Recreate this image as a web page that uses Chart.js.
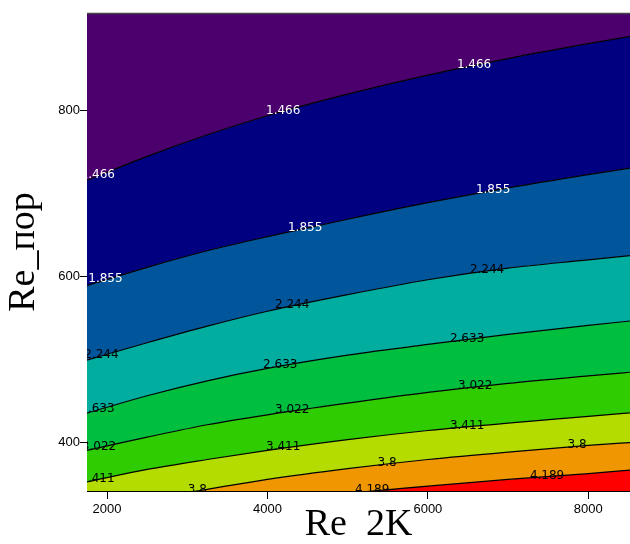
<!DOCTYPE html>
<html>
<head>
<meta charset="utf-8">
<script src="https://cdn.jsdelivr.net/npm/chart.js@4.4.1/dist/chart.umd.min.js"></script>
<style>
  body { margin: 0; background: #fff; }
  #chart { display: block; }
</style>
</head>
<body>
<canvas id="chart" width="630" height="544"></canvas>
<script>
/* =========================
   DATOS
========================= */

// Re 2K (eje x) donde se leyeron las isolineas
const re2k = [1750, 2500, 3250, 4000, 5000, 6000, 7000, 8000, 8600];

// niveles de las isolineas
const levels = ["1.466", "1.855", "2.244", "2.633", "3.022", "3.411", "3.8", "4.189"];

// Re_пор de cada isolinea
const line1466 = [716, 745, 771, 794, 820, 843, 863, 881, 891];
const line1855 = [589, 611, 631, 648, 669, 689, 707, 723, 732];
const line2244 = [499, 520, 540, 558, 578, 596, 610, 620, 626];
const line2633 = [435, 456, 474, 489, 505, 518, 530, 541, 547];
const line3022 = [390, 406, 421, 433, 447, 460, 471, 480, 485];
const line3411 = [352, 367, 379, 390, 403, 414, 423, 431, 436];
const line38   = [319, 331, 343, 355, 368, 379, 388, 396, 400];
const line4189 = [301, 310, 319, 327, 338, 347, 355, 362, 367];

const xTicks = [2000, 4000, 6000, 8000];
const yTicks = [400, 600, 800];

/* =========================
   ESTILO
========================= */

// colores de las bandas, de arriba hacia abajo
const bandColors = [
  "#4b006e", "#000080", "#00559b", "#00ad9f",
  "#00be3e", "#2ecc00", "#b4dc00", "#f09600", "#ff0000"
];

// donde va la etiqueta de cada isolinea (en Re 2K)
const labelAt = [
  [1885, 4196, 6576],
  [1980, 4470, 6813],
  [1930, 4308, 6738],
  [1880, 4160, 6489],
  [1900, 4308, 6589],
  [1880, 4196, 6489],
  [3125, 5492, 7859],
  [5305, 7486]
];

const lines = [line1466, line1855, line2244, line2633, line3022, line3411, line38, line4189];

function pts(arr) {
  return re2k.map((x, i) => ({ x: x, y: arr[i] }));
}

/* =========================
   PLUGINS
========================= */

// etiquetas sobre las isolineas
const contourLabels = {
  id: "contourLabels",
  afterDatasetsDraw(chart) {
    const { ctx, chartArea, scales } = chart;
    ctx.save();
    ctx.beginPath();
    ctx.rect(chartArea.left, chartArea.top, chartArea.right - chartArea.left, chartArea.bottom - chartArea.top);
    ctx.clip();
    ctx.font = "12px 'DejaVu Sans'";
    ctx.textAlign = "center";
    ctx.textBaseline = "middle";

    labelAt.forEach((xs, i) => {
      const pointsPx = chart.getDatasetMeta(i).data;
      ctx.fillStyle = i < 2 ? "#fff" : "#000";
      xs.forEach(xv => {
        const px = scales.x.getPixelForValue(xv);
        let py = pointsPx[0].y;
        for (let k = 0; k < pointsPx.length - 1; k++) {
          const a = pointsPx[k], b = pointsPx[k + 1];
          if (px >= a.x && px <= b.x) {
            py = a.y + (b.y - a.y) * (px - a.x) / (b.x - a.x);
            break;
          }
        }
        ctx.fillText(levels[i], px, py - 1);
      });
    });
    ctx.restore();
  }
};

// borde superior del area
const topFrame = {
  id: "topFrame",
  afterDraw(chart) {
    const { ctx, chartArea } = chart;
    ctx.save();
    ctx.strokeStyle = "#444";
    ctx.lineWidth = 1.5;
    ctx.beginPath();
    ctx.moveTo(chartArea.left, chartArea.top + 0.5);
    ctx.lineTo(chartArea.right, chartArea.top + 0.5);
    ctx.stroke();
    ctx.restore();
  }
};

/* =========================
   GRAFICO
========================= */

const datasets = lines.map((arr, i) => ({
  label: levels[i],
  data: pts(arr),
  borderColor: "#000",
  borderWidth: 1.2,
  backgroundColor: bandColors[i],
  fill: i === 0 ? "end" : "-1",
  pointRadius: 0,
  cubicInterpolationMode: "monotone",
  clip: 0
}));

// banda roja por debajo de 4.189
datasets.push({
  label: "bottom",
  data: pts(line4189),
  borderWidth: 0,
  borderColor: "rgba(0,0,0,0)",
  backgroundColor: bandColors[8],
  fill: "start",
  pointRadius: 0,
  cubicInterpolationMode: "monotone",
  clip: 0
});

const tickFont = { family: "'Liberation Sans'", size: 13 };
const titleFont = { family: "'Liberation Serif'", size: 38, lineHeight: 1 };

new Chart(document.getElementById("chart"), {
  type: "line",
  data: { datasets: datasets },
  plugins: [contourLabels, topFrame],
  options: {
    responsive: false,
    animation: false,
    layout: { padding: { top: 13, right: 0, left: 0, bottom: 0 } },
    plugins: {
      legend: { display: false },
      tooltip: { enabled: false }
    },
    scales: {
      x: {
        type: "linear",
        min: 1750,
        max: 8520,
        afterBuildTicks: s => { s.ticks = xTicks.map(v => ({ value: v })); },
        afterFit: s => { s.height = 53; },
        grid: { drawOnChartArea: false, tickLength: 8, color: "#000" },
        border: { color: "#000", width: 1 },
        ticks: { color: "#000", font: tickFont, padding: 3, maxRotation: 0, callback: v => String(v) },
        title: { display: true, text: "Re  2K", color: "#000", font: titleFont, padding: 0 }
      },
      y: {
        min: 341,
        max: 918,
        afterBuildTicks: s => { s.ticks = yTicks.map(v => ({ value: v })); },
        afterFit: s => { s.width = 87; },
        grid: { drawOnChartArea: false, tickLength: 7, color: "#000" },
        border: { color: "#000", width: 1 },
        ticks: { color: "#000", font: tickFont, padding: 0, callback: v => String(v) },
        title: { display: true, text: "Re_пор", color: "#000", font: titleFont, padding: { top: 5, bottom: 0 } }
      }
    }
  }
});
</script>
</body>
</html>
